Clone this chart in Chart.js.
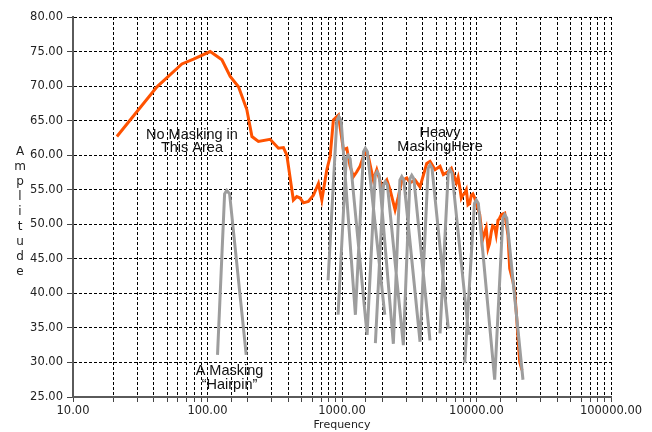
<!DOCTYPE html>
<html lang="en">
<head>
    <meta charset="UTF-8">
    <title>Masking</title>
    <script src="https://cdnjs.cloudflare.com/ajax/libs/Chart.js/4.4.1/chart.umd.min.js"></script>
    <style>
        body {
            margin: 0;
            background: #fff;
        }
    </style>
</head>
<body>
    <canvas id="chart" width="652" height="432"></canvas>

    <script>
        // Spectrum (orange)
        const orangeFreq = [21.2, 42.1, 64.5, 78.7, 104.7, 128, 147.5, 170, 196, 214, 239, 292, 337, 367, 389,
            435, 461, 488, 517, 562, 613, 668, 708, 771, 816, 863, 940, 1024, 1086, 1148, 1216, 1288, 1362,
            1484, 1571, 1711, 1814, 1977, 2154, 2277, 2481, 2626, 2781, 3030, 3206, 3492, 3803, 4265, 4515,
            4921, 5357, 5667, 6138, 6501, 7082, 7300, 7503, 7713, 7900, 8171, 8400, 8645, 8900, 9145, 9400, 9696,
            10568, 10860, 11000, 11510, 11800, 12180, 12500, 12890, 13200, 13660, 14000, 14450, 14800, 15290,
            16210, 17150, 17650, 18680, 19220, 19760, 20340, 20940, 21780];
        const orangeAmp = [62.7, 69.9, 73.2, 73.9, 75.0, 73.8, 71.4, 69.9, 66.6, 62.7, 62.0, 62.3, 61.0, 61.1, 60.0,
            53.5, 54.0, 53.8, 53.1, 53.3, 54.2, 55.9, 53.5, 57.9, 59.8, 65.1, 65.8, 60.8, 61.0, 58.4, 56.9, 57.6, 58.4,
            60.5, 59.8, 56.4, 57.9, 55.4, 56.4, 55.0, 52.1, 54.0, 56.3, 56.7, 56.0, 56.4, 55.4, 58.8, 59.1,
            57.9, 58.4, 57.2, 57.6, 58.1, 56.0, 56.8, 55.4, 53.8, 54.2, 54.5, 55.0, 52.8, 53.0, 54.2, 54.4, 53.8,
            51.4, 49.4, 47.5, 48.9, 49.5, 46.5, 47.2, 48.9, 49.8, 49.6, 48.5, 50.6, 50.8, 51.4,
            51.6, 48.4, 43.6, 41.7, 40.2, 37.3, 33.5, 30.1, 28.9];

        // Masking hairpins (gray), null separates one hairpin from the next
        const maskFreq = [
            118.7, 134, 139, 146, 194, null,
            788, 915, 947, 985, 1258, null,
            935, 1075, 1110, 1150, 1537, null,
            1258, 1445, 1492, 1545, 2080, null,
            1537, 1765, 1823, 1890, 2409, null,
            1771, 2035, 2101, 2175, 2859, null,
            2409, 2695, 2782, 2880, 3804, null,
            2859, 3200, 3301, 3420, 4512, null,
            3804, 4370, 4512, 4670, 6173, null,
            5355, 6160, 6356, 6580, 8752, null,
            8172, 9650, 9966, 10320, 13650, null,
            13650, 15700, 16200, 16780, 22160];
        const maskAmp = [
            31.1, 54.4, 54.9, 54.4, 31.1, null,
            41.9, 65.0, 65.6, 65.0, 36.9, null,
            36.9, 59.5, 60.0, 59.5, 34.0, null,
            36.9, 60.5, 61.0, 60.5, 36.9, null,
            34.0, 57.1, 57.6, 57.1, 32.7, null,
            32.8, 55.7, 56.2, 55.7, 32.5, null,
            32.7, 56.4, 56.9, 56.4, 33.0, null,
            32.5, 56.6, 57.1, 56.6, 33.2, null,
            33.0, 58.1, 58.6, 58.1, 34.9, null,
            34.2, 57.4, 57.9, 57.4, 34.0, null,
            29.9, 53.0, 53.5, 53.0, 27.5, null,
            27.5, 50.9, 51.4, 50.9, 27.5];

        const yTicks = [25, 30, 35, 40, 45, 50, 55, 60, 65, 70, 75, 80];
        const yTitle = 'Amplitude';
        const xTitle = 'Frequency';

        // text notes placed at (frequency, amplitude)
        const notes = [
            { f: 76.6, a: 62.0, lines: ['No Masking in', 'This Area'] },
            { f: 5357, a: 62.2, lines: ['Heavy', 'MaskingHere'] },
            { f: 145.7, a: 27.75, lines: ['A Masking', '\u201cHairpin\u201d'] }
        ];

        const toPoints = (xs, ys) => xs.map((x, i) => ({ x: x === null ? NaN : x, y: ys[i] }));

        const notesPlugin = {
            id: 'notes',
            afterDatasetsDraw(chart) {
                const ctx = chart.ctx;
                const xs = chart.scales.x, ys = chart.scales.y;
                ctx.save();
                ctx.font = '14.5px "Liberation Sans", Arial, sans-serif';
                ctx.fillStyle = '#111';
                ctx.textAlign = 'center';
                ctx.textBaseline = 'middle';
                notes.forEach(n => {
                    const px = xs.getPixelForValue(n.f);
                    const py = ys.getPixelForValue(n.a);
                    const lh = 13.3;
                    n.lines.forEach((t, i) => {
                        ctx.fillText(t, px, py + (i - (n.lines.length - 1) / 2) * lh);
                    });
                });

                // stacked y-axis title
                ctx.font = '12px "DejaVu Sans", sans-serif';
                ctx.fillStyle = '#222';
                const letters = yTitle.split('');
                const mid = (chart.chartArea.top + chart.chartArea.bottom) / 2 + 5;
                letters.forEach((c, i) => {
                    ctx.fillText(c, 20, mid + (i - (letters.length - 1) / 2) * 15);
                });
                ctx.restore();
            }
        };

        new Chart(document.getElementById('chart'), {
            type: 'scatter',
            data: {
                datasets: [{
                    label: 'Masking',
                    data: toPoints(maskFreq, maskAmp),
                    showLine: true,
                    spanGaps: false,
                    borderColor: '#9d9d9d',
                    borderWidth: 3,
                    pointRadius: 0,
                    order: 0
                }, {
                    label: 'Spectrum',
                    data: toPoints(orangeFreq, orangeAmp),
                    showLine: true,
                    borderColor: '#ff5200',
                    borderWidth: 3,
                    pointRadius: 0,
                    order: 1
                }]
            },
            options: {
                responsive: false,
                animation: false,
                layout: { padding: { top: 17, right: 41, left: 0, bottom: 0 } },
                plugins: {
                    legend: { display: false },
                    tooltip: { enabled: false }
                },
                scales: {
                    x: {
                        type: 'logarithmic',
                        min: 10,
                        max: 100000,
                        afterFit: s => { s.height = 35; },
                        grid: {
                            color: '#000',
                            lineWidth: 1,
                            drawTicks: true,
                            tickLength: 5,
                            tickColor: '#444'
                        },
                        border: { color: '#5a5a5a', width: 2, dash: [3, 2] },
                        ticks: {
                            autoSkip: false,
                            maxRotation: 0,
                            padding: 2,
                            color: '#222',
                            font: { family: '"DejaVu Sans", sans-serif', size: 11.5 },
                            callback: v => {
                                const l = Math.log10(v);
                                return Math.abs(l - Math.round(l)) < 1e-9 ? Number(v).toFixed(2) : '';
                            }
                        },
                        title: {
                            display: true,
                            text: xTitle,
                            color: '#222',
                            padding: { top: 0, bottom: 0 },
                            font: { family: '"DejaVu Sans", sans-serif', size: 11 }
                        }
                    },
                    y: {
                        min: 25,
                        max: 80,
                        afterFit: s => { s.width = 73; },
                        afterBuildTicks: s => { s.ticks = yTicks.map(v => ({ value: v })); },
                        grid: {
                            color: '#000',
                            lineWidth: 1,
                            drawTicks: true,
                            tickLength: 6,
                            tickColor: '#444'
                        },
                        border: { color: '#5a5a5a', width: 2, dash: [3, 2] },
                        ticks: {
                            padding: 4,
                            color: '#222',
                            font: { family: '"DejaVu Sans", sans-serif', size: 11.5 },
                            callback: v => Number(v).toFixed(2)
                        }
                    }
                }
            },
            plugins: [notesPlugin]
        });
    </script>
</body>
</html>
